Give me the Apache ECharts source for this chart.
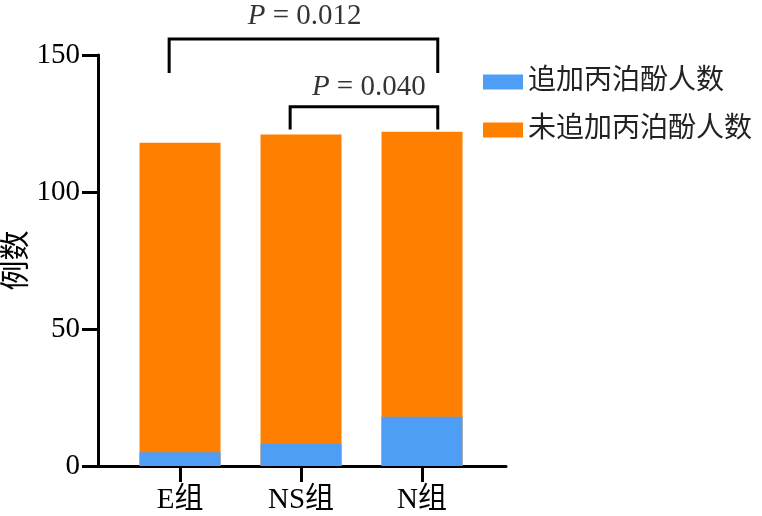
<!DOCTYPE html>
<html>
<head>
<meta charset="utf-8">
<script src="https://cdn.jsdelivr.net/npm/echarts@6/dist/echarts.min.js"></script>
<style>html,body{margin:0;padding:0;background:#fff;}#c{width:762px;height:516px;}</style>
</head>
<body>
<div id="c"></div>
<script>
const categories = ['E组', 'NS组', 'N组'];
const addedCounts = [5, 8, 18];          // 追加丙泊酚人数
const notAddedCounts = [113, 113, 104];  // 未追加丙泊酚人数
const seriesNames = ['追加丙泊酚人数', '未追加丙泊酚人数'];
const yAxisName = '例数';
const yMin = 0, yMax = 150, yStep = 50;

// significance annotations: [fromIndex, toIndex], bracket top value, leg bottom value, p text
const bracketFrom = [-0.09, 0.91];
const bracketTo = [2.13, 2.13];
const bracketTop = [155.8, 131.1];
const bracketLeg = [143.4, 122.8];
const pValues = ['0.012', '0.040'];
const pTextX = [1.03, 1.56];
const pTextY = [164.2, 138.3];

const FONT = "'Liberation Serif', 'Times New Roman', 'Noto Sans CJK SC', serif";
const INK = '#000';
const chart = echarts.init(document.getElementById('c'), null, {renderer: 'canvas'});

// stacked totals (orange segment sits on top of blue segment)
const totals = addedCounts.map((v, i) => v + notAddedCounts[i]);

const bracketSeries = bracketFrom.map((f, i) => ({
  type: 'line',
  data: [[f, bracketLeg[i]], [f, bracketTop[i]], [bracketTo[i], bracketTop[i]], [bracketTo[i], bracketLeg[i]]],
  symbol: 'none',
  clip: false,
  silent: true,
  lineStyle: {color: INK, width: 3, join: 'miter'},
  z: 5
}));

const pSeries = {
  type: 'scatter',
  symbolSize: 0,
  clip: false,
  silent: true,
  data: pValues.map((p, i) => [pTextX[i], pTextY[i]]),
  label: {
    show: true,
    position: 'inside',
    formatter: (prm) => '{i|P} = ' + pValues[prm.dataIndex],
    fontFamily: FONT,
    fontSize: 29,
    color: INK,
    rich: {i: {fontStyle: 'italic', fontFamily: FONT, fontSize: 29, color: INK}}
  }
};

chart.setOption({
  animation: false,
  backgroundColor: '#fff',
  grid: {left: 98, right: 256, top: 55, bottom: 50, containLabel: false, outerBoundsMode: 'none'},
  legend: {
    orient: 'vertical',
    left: 478,
    top: 63,
    itemWidth: 40,
    itemHeight: 15,
    itemGap: 20,
    icon: 'rect',
    data: seriesNames,
    textStyle: {fontFamily: FONT, fontSize: 28, color: '#222'}
  },
  xAxis: {
    type: 'value',
    min: -0.678,
    max: 2.694,
    splitLine: {show: false},
    axisLine: {show: true, onZero: false, lineStyle: {color: INK, width: 3}},
    axisTick: {show: true, customValues: [0, 1, 2], length: 16, lineStyle: {color: INK, width: 3}},
    axisLabel: {
      customValues: [0, 1, 2],
      formatter: (v) => categories[Math.round(v)] || '',
      fontFamily: FONT, fontSize: 29, color: INK, margin: 20
    }
  },
  yAxis: {
    type: 'value',
    min: yMin, max: yMax, interval: yStep,
    name: yAxisName,
    nameLocation: 'middle',
    nameRotate: 90,
    nameGap: 66,
    nameMoveOverlap: false,
    nameTextStyle: {fontFamily: FONT, fontSize: 30, color: INK},
    splitLine: {show: false},
    axisLine: {show: true, onZero: false, lineStyle: {color: INK, width: 3}},
    axisTick: {show: true, length: 16, lineStyle: {color: INK, width: 3}},
    axisLabel: {fontFamily: FONT, fontSize: 29, color: INK, margin: 18}
  },
  series: [
    {
      name: seriesNames[1], type: 'bar', barWidth: 81, barGap: '-100%',
      itemStyle: {color: '#ff8000'},
      data: totals.map((v, i) => [i, v]),
      z: 2
    },
    {
      name: seriesNames[0], type: 'bar', barWidth: 81, barGap: '-100%',
      itemStyle: {color: '#4f9ef5'},
      data: addedCounts.map((v, i) => [i, v]),
      z: 3
    },
    ...bracketSeries,
    pSeries
  ]
});
</script>
</body>
</html>
